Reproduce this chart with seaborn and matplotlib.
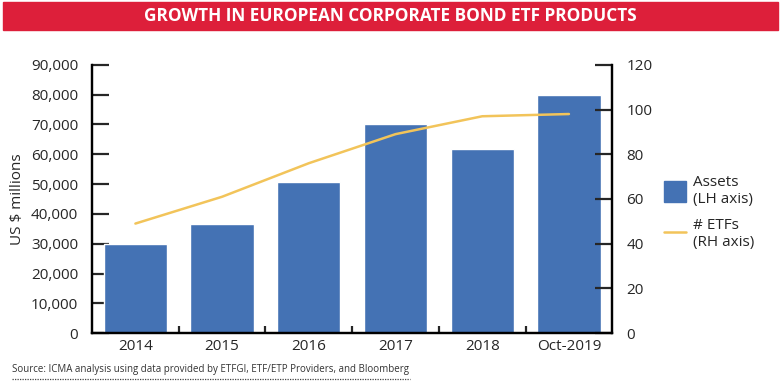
import matplotlib
matplotlib.use("Agg")
import matplotlib.pyplot as plt
import seaborn as sns
from matplotlib.patches import Rectangle
from matplotlib.lines import Line2D
from matplotlib.ticker import FuncFormatter

#--------------------------------------------------------------
# 1. Data
#--------------------------------------------------------------
years = ['2014', '2015', '2016', '2017', '2018', 'Oct-2019']
assets = [30000, 36700, 50700, 70200, 61800, 79900]   # US$ millions (LH axis)
n_etfs = [49, 61, 76, 89, 97, 98]                     # number of ETFs (RH axis)

bar_color = '#4472b4'
line_color = '#f2c45a'
red = '#dd1f3a'

#--------------------------------------------------------------
# 2. Figure + style
#--------------------------------------------------------------
sns.set_style('white')
plt.rcParams['font.family'] = ['Open Sans', 'DejaVu Sans']

fig = plt.figure(figsize=(7.8, 3.86), dpi=100)
ax = fig.add_axes([0.118, 0.137, 0.667, 0.695])

#--------------------------------------------------------------
# 3. Bars (left axis)
#--------------------------------------------------------------
sns.barplot(x=years, y=assets, color=bar_color, width=0.73,
            saturation=1, ax=ax)
ax.set_ylim(0, 90000)
ax.set_yticks(range(0, 90001, 10000))
ax.yaxis.set_major_formatter(FuncFormatter(lambda v, p: f'{int(v):,}'))
ax.set_xlim(-0.5, len(years) - 0.5)
ax.set_ylabel('US $ millions', fontsize=11, labelpad=4)
ax.set_xlabel('')

#--------------------------------------------------------------
# 4. Line (right axis)
#--------------------------------------------------------------
ax2 = ax.twinx()
sns.lineplot(x=list(range(len(years))), y=n_etfs, color=line_color,
             linewidth=1.8, ax=ax2)
ax2.set_ylim(0, 120)
ax2.set_yticks(range(0, 121, 20))

#--------------------------------------------------------------
# 5. Spines and ticks
#--------------------------------------------------------------
for a in (ax, ax2):
    a.spines['top'].set_visible(False)
    for side in ('left', 'right', 'bottom'):
        a.spines[side].set_color('black')
        a.spines[side].set_linewidth(1.6)

ax.tick_params(axis='y', direction='in', length=12, width=1.6,
               labelsize=11, pad=10, left=True)
ax2.tick_params(axis='y', direction='in', length=12, width=1.6,
                labelsize=11, pad=10, right=True)
ax.tick_params(axis='x', which='major', length=0, labelsize=11, pad=4)
ax.set_xticks([i + 0.5 for i in range(len(years) - 1)], minor=True)
ax.tick_params(axis='x', which='minor', direction='in', length=5,
               width=1.6, bottom=True)

#--------------------------------------------------------------
# 6. Legend
#--------------------------------------------------------------
handles = [Rectangle((0, 0), 1, 1, color=bar_color),
           Line2D([0], [0], color=line_color, linewidth=1.8)]
fig.legend(handles, ['Assets\n(LH axis)', '# ETFs\n(RH axis)'],
           loc='center left', bbox_to_anchor=(0.834, 0.45), frameon=False,
           fontsize=11, handlelength=1.45, handleheight=1.7,
           handletextpad=0.4, labelspacing=0.7)

#--------------------------------------------------------------
# 7. Title banner and source
#--------------------------------------------------------------
fig.patches.append(Rectangle((0.004, 0.922), 0.993, 0.072,
                             transform=fig.transFigure, color=red, zorder=0))
fig.text(0.5, 0.958, 'GROWTH IN EUROPEAN CORPORATE BOND ETF PRODUCTS',
         ha='center', va='center', color='white', fontsize=12.4,
         fontweight='bold')
fig.text(0.016, 0.044,
         'Source: ICMA analysis using data provided by ETFGI, ETF/ETP Providers, and Bloomberg',
         ha='left', va='center', fontsize=7.0, color='#333333')
fig.lines.append(Line2D([0.015, 0.526], [0.018, 0.018], transform=fig.transFigure,
                        color='#444444', linestyle=(0, (1, 1)), linewidth=0.9))

plt.savefig('out.png', dpi=100)
